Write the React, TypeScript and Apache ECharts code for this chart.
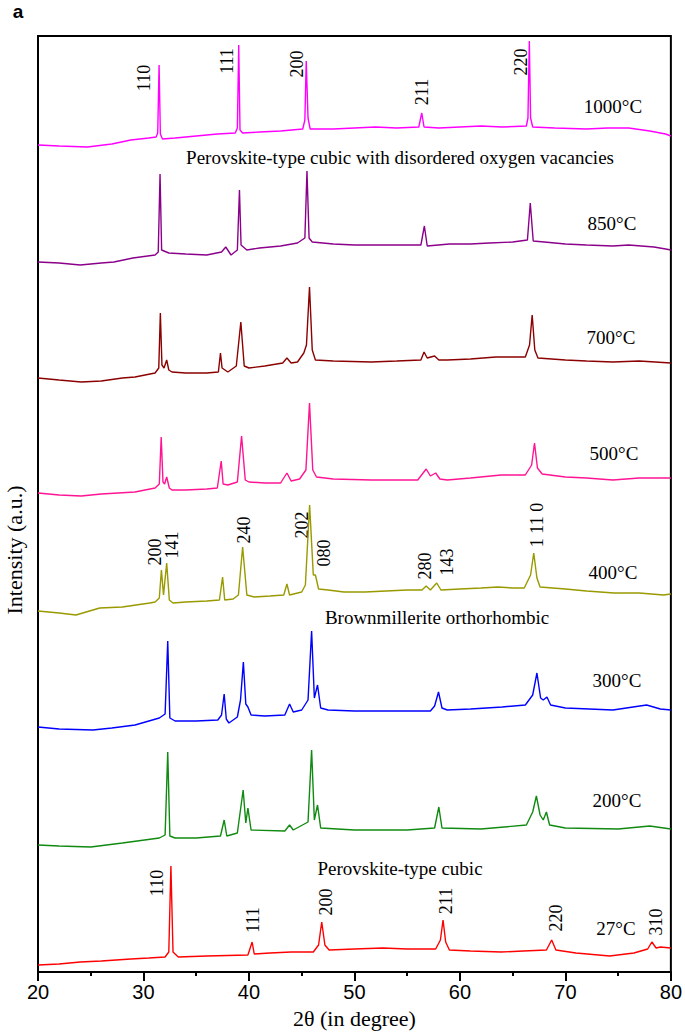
import React, { useEffect, useRef } from "react";
import * as echarts from "echarts";

// 2θ (degree) vs. intensity (a.u., stacked with vertical offsets as in the figure)
const t1000: [number, number][] = [
  [20, 827], [22, 826], [24.7, 825], [27, 828], [28.8, 832], [30.5, 834], [31.2, 835], [31.35, 839], [31.48, 907], [31.6, 838], [31.8, 833],
  [33, 834], [35, 836], [37, 838], [38.7, 839], [38.9, 844], [39.03, 927], [39.15, 842], [39.4, 839], [41, 840], [43, 841],
  [45.1, 843], [45.3, 852], [45.43, 911], [45.6, 854], [45.8, 843], [48, 843], [50, 844], [52, 845], [54, 844],
  [56.1, 845], [56.38, 859], [56.6, 845], [58, 844], [60, 845], [62, 846], [64, 845], [66.3, 846], [66.45, 854], [66.58, 931],
  [66.7, 854], [66.9, 845], [69, 844], [72, 843], [74, 844], [76, 844], [78, 841], [79.5, 838], [80, 836],
];
const t850: [number, number][] = [
  [20, 710], [22, 709], [24, 707], [26, 709], [27.2, 710], [29, 714], [31.1, 717], [31.4, 720], [31.57, 798], [31.72, 722], [32.4, 719],
  [34, 718], [36, 717], [37.4, 720], [37.8, 725], [38.3, 717], [38.9, 722], [39.1, 782], [39.25, 727], [39.8, 722], [41, 724], [43, 726],
  [44.6, 729], [45.3, 734], [45.5, 801], [45.7, 734], [46, 730], [48, 728], [50, 727], [52, 727], [54, 727], [56.3, 727], [56.63, 746],
  [56.9, 726], [59, 728], [61, 728], [62.8, 729], [65, 730], [66.4, 732], [66.67, 769], [66.95, 731], [68, 730], [70, 728], [72, 727],
  [74.5, 726], [76, 727], [78.4, 725], [79.5, 723], [80, 722],
];
const t700: [number, number][] = [
  [20, 594], [22, 592], [24.1, 590], [26, 591], [28, 594], [29.2, 595], [31.1, 599], [31.45, 604], [31.6, 659], [31.75, 607], [31.95, 604],
  [32.2, 612], [32.4, 602], [32.7, 600], [34, 599], [36, 599], [37.1, 600], [37.3, 619], [37.45, 604], [38, 600], [38.8, 606], [39.23, 650],
  [39.55, 606], [40, 604], [41.5, 606], [43.2, 609], [43.6, 614], [44, 609], [44.6, 610], [45.2, 619], [45.45, 627], [45.74, 685], [46, 622],
  [46.3, 612], [48, 611], [51.6, 610], [54, 611], [56.3, 612], [56.6, 620], [56.9, 614], [57.6, 616], [58, 612], [58.8, 612], [61, 613],
  [63.4, 615], [66.2, 615], [66.6, 627], [66.85, 657], [67.1, 622], [67.4, 614], [70, 612], [72, 611], [74.5, 610], [77, 611], [80, 609],
];
const t500: [number, number][] = [
  [20, 479], [22, 477], [24.1, 476], [26, 478], [29.2, 480], [31.1, 484], [31.5, 488], [31.68, 535], [31.85, 490], [32, 488], [32.2, 495],
  [32.45, 484], [32.7, 482], [34, 482], [36, 483], [37, 484], [37.37, 511], [37.55, 488], [38, 487], [38.9, 490], [39.3, 536], [39.65, 492],
  [40, 490], [41.5, 489], [43, 489], [43.6, 499], [44, 491], [44.8, 493], [45.4, 502], [45.74, 569], [46.05, 502], [46.4, 495], [48, 493],
  [51.6, 492], [54, 492], [56, 492], [56.8, 503], [57.2, 496], [57.7, 499], [58.1, 493], [58.8, 492], [61, 494], [63.9, 497], [66.2, 497],
  [66.8, 507], [67.07, 529], [67.35, 504], [67.8, 498], [70, 495], [72, 494], [74.5, 492], [77, 494], [80, 494],
];
const t400: [number, number][] = [
  [20, 361], [22, 359], [23.6, 357], [25.85, 364], [28, 365], [30.6, 369], [31.1, 370], [31.5, 374], [31.7, 402], [31.9, 377], [32.2, 409],
  [32.45, 372], [32.8, 369], [34, 370], [36, 371], [37.2, 372], [37.5, 395], [37.7, 372], [38.5, 373], [39, 377], [39.4, 425], [39.8, 377],
  [40.5, 375], [42, 376], [43.3, 377], [43.6, 388], [43.85, 377], [45, 380], [45.35, 387], [45.75, 467], [46.1, 397], [46.3, 397], [46.6, 383],
  [47.5, 382], [49, 380], [51, 380], [53, 381], [55, 382], [56.4, 382], [56.8, 386], [57.2, 382], [57.8, 389], [58.2, 382], [60, 383],
  [62, 384], [63.6, 385], [65, 384], [66.1, 384], [66.7, 397], [67, 419], [67.3, 394], [67.6, 385], [70, 383], [72, 381], [74.6, 379],
  [77, 379], [79.3, 377], [80, 378],
];
const t300: [number, number][] = [
  [20, 245], [22, 243], [25.2, 242], [27, 244], [29.2, 247], [31.5, 254], [32.05, 258], [32.3, 331], [32.5, 254], [33, 251], [35, 251],
  [37.05, 252], [37.4, 257], [37.65, 278], [37.85, 253], [38.1, 249], [38.9, 255], [39.2, 272], [39.47, 310], [39.7, 268], [39.9, 265],
  [40.2, 257], [41.5, 256], [43.4, 257], [43.85, 268], [44.2, 260], [45, 262], [45.6, 272], [45.94, 341], [46.2, 274], [46.5, 287],
  [46.8, 264], [47.5, 262], [50, 261], [53, 261], [57.2, 261], [57.6, 266], [57.97, 280], [58.3, 264], [58.8, 262], [61, 263], [64, 265],
  [66.2, 267], [66.9, 277], [67.3, 299], [67.65, 274], [67.9, 272], [68.25, 275], [68.6, 267], [70, 264], [74.5, 262], [77.7, 267],
  [79, 263], [80, 262],
];
const t200: [number, number][] = [
  [20, 127], [22, 126], [25, 125], [28, 129], [31.5, 134], [32.05, 137], [32.3, 220], [32.5, 136], [33, 134], [35, 134], [37.3, 136],
  [37.65, 152], [37.9, 136], [38.9, 139], [39.45, 182], [39.7, 149], [39.9, 164], [40.2, 142], [43.4, 141], [43.85, 147], [44.2, 142],
  [45.6, 150], [45.94, 222], [46.2, 152], [46.5, 167], [46.8, 144], [50, 142], [55, 142], [57.6, 144], [58, 165], [58.3, 144], [62, 143],
  [66.3, 147], [66.9, 160], [67.25, 176], [67.6, 157], [67.9, 152], [68.2, 160], [68.5, 147], [70, 144], [75, 143], [78, 146], [80, 143],
];
const t27: [number, number][] = [
  [20, 7], [22, 8], [24, 10], [26, 11], [28.8, 13], [30.5, 14], [32.05, 15], [32.4, 20], [32.6, 106], [32.8, 20], [33.3, 15], [36, 16],
  [39.9, 17], [40.3, 30], [40.5, 18], [42, 19], [44, 20], [46.1, 20], [46.6, 27], [46.9, 50], [47.2, 27], [47.6, 22], [50, 23], [52.7, 24],
  [55, 23], [57.7, 23], [58.15, 32], [58.4, 52], [58.65, 30], [59, 22], [61, 21], [63.9, 20], [66, 21], [68.2, 22], [68.7, 32], [69.1, 22],
  [71, 19], [74.2, 16], [76.5, 19], [77.8, 23], [78.2, 30], [78.6, 24], [79, 25], [80, 24],
];

const traceNames = ["1000°C", "850°C", "700°C", "500°C", "400°C", "300°C", "200°C", "27°C"];
const traceData = [t1000, t850, t700, t500, t400, t300, t200, t27];
const traceColors = ["#ff00ff", "#8b008b", "#8b0000", "#ff1493", "#999900", "#0000ff", "#108a10", "#ff0000"];

const xTicks = [20, 30, 40, 50, 60, 70, 80];

const SERIF = "'Liberation Serif', 'Times New Roman', serif";

type Lab = { t: string; x: number; y: number; r?: boolean; s?: number };
const labels: Lab[] = [
  { t: "110", x: 144, y: 78, r: true }, { t: "111", x: 227, y: 61, r: true }, { t: "200", x: 297, y: 64, r: true },
  { t: "211", x: 422, y: 92, r: true }, { t: "220", x: 521, y: 62, r: true },
  { t: "1000°C", x: 613, y: 106, s: 19 },
  { t: "Perovskite-type cubic with disordered oxygen vacancies", x: 400, y: 157, s: 19 },
  { t: "850°C", x: 612, y: 223, s: 19 }, { t: "700°C", x: 611, y: 337, s: 19 }, { t: "500°C", x: 614, y: 453, s: 19 },
  { t: "200", x: 155, y: 552, r: true }, { t: "141", x: 172, y: 545, r: true }, { t: "240", x: 244, y: 530, r: true },
  { t: "202", x: 302, y: 525, r: true }, { t: "080", x: 324, y: 553, r: true }, { t: "280", x: 425, y: 566, r: true },
  { t: "143", x: 447, y: 562, r: true }, { t: "1 11 0", x: 537, y: 525, r: true },
  { t: "400°C", x: 613, y: 572, s: 19 },
  { t: "Brownmillerite orthorhombic", x: 437, y: 617, s: 19 },
  { t: "300°C", x: 617, y: 680, s: 19 }, { t: "200°C", x: 617, y: 800, s: 19 },
  { t: "Perovskite-type cubic", x: 400, y: 868, s: 19 },
  { t: "110", x: 157, y: 883, r: true }, { t: "111", x: 253, y: 920, r: true }, { t: "200", x: 326, y: 902, r: true },
  { t: "211", x: 446, y: 901, r: true }, { t: "220", x: 556, y: 918, r: true }, { t: "310", x: 656, y: 922, r: true },
  { t: "27°C", x: 616, y: 928, s: 19 },
];

export default function App() {
  const ref = useRef<HTMLDivElement>(null);
  useEffect(() => {
    if (!ref.current) return;
    const chart = echarts.init(ref.current, undefined, { renderer: "svg" });
    const graphics: any[] = labels.map((l) => ({
      type: "text",
      x: l.x,
      y: l.y,
      rotation: l.r ? Math.PI / 2 : 0,
      silent: true,
      style: {
        text: l.t,
        textAlign: "center",
        textVerticalAlign: "middle",
        fontFamily: SERIF,
        fontSize: l.s || 18,
        fill: "#000",
      },
    }));
    graphics.push({
      type: "text", x: 14, y: 550, rotation: Math.PI / 2, silent: true,
      style: { text: "Intensity (a.u.)", textAlign: "center", textVerticalAlign: "middle", fontFamily: SERIF, fontSize: 22, fill: "#000" },
    });
    graphics.push({
      type: "text", x: 18, y: 11, silent: true,
      style: { text: "a", textAlign: "center", textVerticalAlign: "middle", fontFamily: "'Liberation Sans', Arial, sans-serif", fontWeight: "bold", fontSize: 19, fill: "#000" },
    });
    chart.setOption({
      animation: false,
      backgroundColor: "#fff",
      grid: { left: 38, right: 11, top: 36, bottom: 64, show: true, borderColor: "#000", borderWidth: 2, backgroundColor: "transparent" },
      xAxis: {
        type: "value", min: xTicks[0], max: xTicks[xTicks.length - 1], interval: 10,
        axisLine: { show: true, lineStyle: { color: "#000", width: 2 } },
        axisTick: { show: true, inside: false, length: 9, lineStyle: { color: "#000", width: 2 } },
        minorTick: { show: true, splitNumber: 2, length: 4, lineStyle: { color: "#000", width: 2 } },
        splitLine: { show: false },
        axisLabel: { fontSize: 20, color: "#000", fontFamily: "'Liberation Sans', Arial, sans-serif", margin: 10 },
        name: "2θ (in degree)", nameLocation: "middle", nameGap: 35,
        nameTextStyle: { fontFamily: SERIF, fontSize: 22, color: "#000" },
      },
      yAxis: {
        type: "value", min: 0, max: 936,
        axisLine: { show: false }, axisTick: { show: false }, axisLabel: { show: false }, splitLine: { show: false },
      },
      series: traceData.map((d, i) => ({
        type: "line", name: traceNames[i], data: d, showSymbol: false, symbol: "none",
        lineStyle: { color: traceColors[i], width: 1.4 }, z: 2,
      })),
      graphic: graphics,
    });
    return () => chart.dispose();
  }, []);
  return <div ref={ref} style={{ position: "fixed", left: 0, top: 0, width: 685, height: 1036 }} />;
}
